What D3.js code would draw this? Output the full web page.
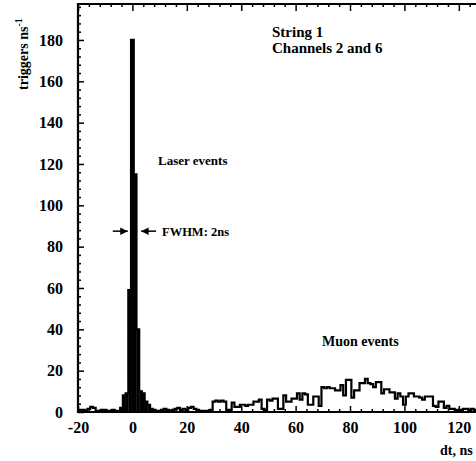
<!DOCTYPE html>
<html>
<head>
<meta charset="utf-8">
<style>
body { margin: 0; background: #fff; }
svg { display: block; background: #fff; }
text { font-family: "Liberation Serif", "Times New Roman", serif; font-weight: bold; fill: #000; }
.tick line { stroke: #000; stroke-width: 1.5px; }
.tick text { font-size: 16px; }
</style>
</head>
<body>
<svg width="476" height="461"></svg>
<script src="https://d3js.org/d3.v7.min.js"></script>
<script>
// histogram: 1 ns bins centred on integer dt, first bin at -20 ns
var firstBin = -20;
var counts = [
  0, 1, 1, 0.5, 1.5, 2.5, 2, 0.5, 0.5, 1,            // -20..-11
  1, 0.5, 0.5, 1, 0.5, 0.5, 2, 8, 9, 59,             // -10..-1
  180, 115, 40, 10, 9, 5, 3.5, 1.5, 1, 0.5,          // 0..9
  0.5, 1, 1.5, 1, 0.5, 1, 1.5, 2, 1, 1.5,            // 10..19
  1, 2, 2.5, 1.5, 1, 0.5, 0.5, 0.5, 0.5, 1,          // 20..29
  5, 5.5, 5, 5.5, 5, 1, 1, 4.5, 2.5, 2.5,            // 30..39
  3.5, 3.5, 3, 3.5, 3.5, 5, 5, 6, 1.5, 1,            // 40..49
  6, 5.5, 6.5, 6.5, 1.5, 1.5, 8, 5, 5, 6.5,          // 50..59
  6.5, 9, 6, 9, 8.5, 3.5, 3.5, 7.5, 7.5, 3,          // 60..69
  12, 11.5, 12, 11.5, 11.5, 10.5, 10.5, 13, 8, 15.5, // 70..79
  15.5, 7, 10.5, 10.5, 14, 14, 16, 14, 13.5, 12,     // 80..89
  14.5, 14.5, 9, 11, 11, 9.5, 9.5, 6.5, 9, 7.5,      // 90..99
  3.5, 7.5, 9, 9, 7.5, 7.5, 7, 6, 7.5, 7.5,          // 100..109
  7.5, 3, 2.5, 5, 5, 2, 3, 1.5, 1.5, 1,              // 110..119
  1, 1, 1.5, 1.5, 1, 1.5, 1                          // 120..126
];
var laserRange = [-4, 8];          // bins drawn filled
var xTicks = [-20, 0, 20, 40, 60, 80, 100, 120];
var yTicks = [0, 20, 40, 60, 80, 100, 120, 140, 160, 180];

(function() {
var svg = d3.select("svg");
var m = {left: 78, right: 476.5, top: 4, bottom: 412};

var x = d3.scaleLinear().domain([-20, 126.5]).range([m.left, m.right]);
var y = d3.scaleLinear().domain([0, 197.4]).range([m.bottom, m.top]);

var bins = counts.map(function(c, i) {
  var ctr = firstBin + i;
  return {lo: ctr - 0.5, hi: ctr + 0.5, c: ctr, v: c};
});

svg.append("clipPath").attr("id", "plot")
  .append("rect").attr("x", m.left).attr("y", m.top).attr("width", m.right - m.left).attr("height", m.bottom - m.top);

var plot = svg.append("g").attr("clip-path", "url(#plot)");

// filled laser peak
plot.selectAll("rect.laser")
  .data(bins.filter(function(d) { return d.c >= laserRange[0] && d.c <= laserRange[1]; }))
  .enter().append("rect")
  .attr("class", "laser")
  .attr("x", function(d) { return x(d.lo); })
  .attr("width", function(d) { return x(d.hi) - x(d.lo) + 0.3; })
  .attr("y", function(d) { return y(d.v); })
  .attr("height", function(d) { return y(0) - y(d.v); })
  .attr("fill", "#000");

// step outline
var pts = bins.map(function(d) { return [d.lo, d.v]; });
pts.push([bins[bins.length - 1].hi, bins[bins.length - 1].v]);
var step = d3.line()
  .x(function(d) { return x(d[0]); })
  .y(function(d) { return y(d[1]); })
  .curve(d3.curveStepAfter);
plot.append("path")
  .attr("d", step(pts))
  .attr("fill", "none")
  .attr("stroke", "#000")
  .attr("stroke-width", 2.2);

// axes
var minorX = d3.range(-20, 127, 4).filter(function(v) { return xTicks.indexOf(v) < 0; });
var minorY = d3.range(0, 197, 4).filter(function(v) { return yTicks.indexOf(v) < 0; });

function noDomain(g) { g.select(".domain").remove(); }
function plain(d) { return String(d); }   // keep ASCII hyphen for negatives

svg.append("g")
  .attr("transform", "translate(0," + m.bottom + ")")
  .call(d3.axisBottom(x).tickValues(xTicks).tickSizeInner(-6).tickSizeOuter(0).tickPadding(10).tickFormat(plain))
  .call(noDomain);
svg.append("g")
  .attr("transform", "translate(0," + m.bottom + ")")
  .call(d3.axisBottom(x).tickValues(minorX).tickSizeInner(-3).tickSizeOuter(0).tickFormat(""))
  .call(noDomain);

svg.append("g")
  .attr("transform", "translate(0," + m.top + ")")
  .call(d3.axisTop(x).tickValues(xTicks).tickSizeInner(-7).tickSizeOuter(0).tickFormat(""))
  .call(noDomain);
svg.append("g")
  .attr("transform", "translate(0," + m.top + ")")
  .call(d3.axisTop(x).tickValues(minorX).tickSizeInner(-3).tickSizeOuter(0).tickFormat(""))
  .call(noDomain);

svg.append("g")
  .attr("transform", "translate(" + m.left + ",0)")
  .call(d3.axisLeft(y).tickValues(yTicks).tickSizeInner(-6).tickSizeOuter(0).tickPadding(15).tickFormat(plain))
  .call(noDomain);
svg.append("g")
  .attr("transform", "translate(" + m.left + ",0)")
  .call(d3.axisLeft(y).tickValues(minorY).tickSizeInner(-3).tickSizeOuter(0).tickFormat(""))
  .call(noDomain);

// frame lines
svg.append("line").attr("x1", m.left).attr("x2", m.left).attr("y1", m.top - 1).attr("y2", m.bottom + 1)
  .attr("stroke", "#000").attr("stroke-width", 2.2);
svg.append("line").attr("x1", m.left - 1).attr("x2", 476).attr("y1", m.bottom).attr("y2", m.bottom)
  .attr("stroke", "#000").attr("stroke-width", 2.2);
svg.append("line").attr("x1", m.left - 1).attr("x2", 476).attr("y1", m.top).attr("y2", m.top)
  .attr("stroke", "#000").attr("stroke-width", 2.2);

// axis titles
svg.append("text")
  .attr("x", 440).attr("y", 455)
  .attr("font-size", 14)
  .text("dt, ns");

var yl = svg.append("text")
  .attr("transform", "translate(28,90) rotate(-90)")
  .attr("font-size", 14);
yl.append("tspan").text("triggers ns");
yl.append("tspan").attr("dy", -6).attr("font-size", 10).text("-1");

// annotations
svg.append("text").attr("x", 272).attr("y", 37).attr("font-size", 15).text("String 1");
svg.append("text").attr("x", 272).attr("y", 53).attr("font-size", 15).text("Channels 2 and 6");
svg.append("text").attr("x", 158).attr("y", 165).attr("font-size", 13).text("Laser events");
svg.append("text").attr("x", 162).attr("y", 236).attr("font-size", 12.5).text("FWHM: 2ns");
svg.append("text").attr("x", 322).attr("y", 346).attr("font-size", 14).text("Muon events");

// FWHM arrows
var ay = y(87.5);
svg.append("defs").append("marker")
  .attr("id", "ah").attr("viewBox", "0 0 10 10").attr("refX", 10).attr("refY", 5)
  .attr("markerWidth", 5).attr("markerHeight", 5).attr("orient", "auto")
  .append("path").attr("d", "M0,0L10,5L0,10z").attr("fill", "#000");
[[-1.7, -1], [3.2, 1]].forEach(function(a) {
  var tip = x(a[0]);
  svg.append("line")
    .attr("x1", tip + a[1] * 15).attr("x2", tip)
    .attr("y1", ay).attr("y2", ay)
    .attr("stroke", "#000").attr("stroke-width", 1.5)
    .attr("marker-end", "url(#ah)");
});
})();
</script>
</body>
</html>
